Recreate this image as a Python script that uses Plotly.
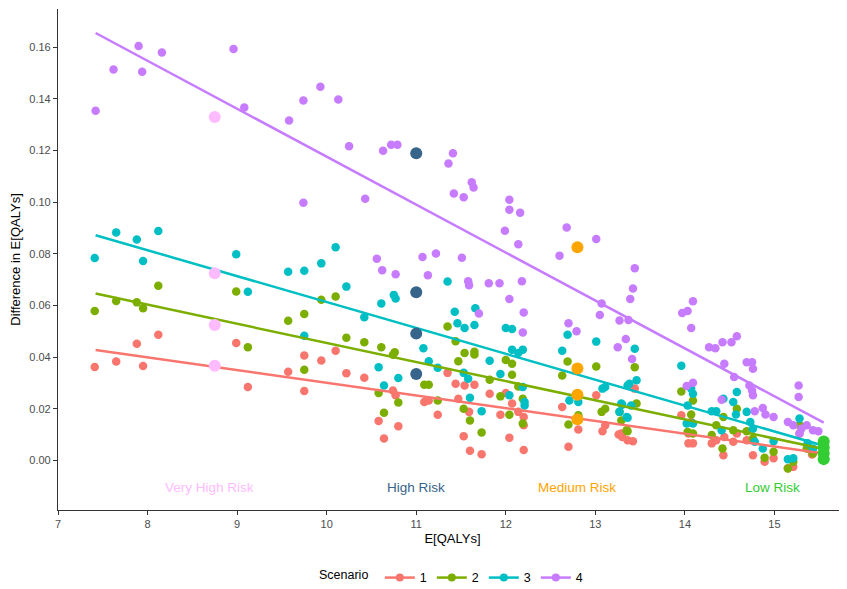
import plotly.graph_objects as go

# ---------------- data ----------------
s1_x = [7.41,7.65,7.88,7.95,8.12,8.99,9.12,9.57,9.75,9.75,9.94,10.10,10.22,10.42,10.58,10.64,10.80,10.74,10.77,11.09,11.14,11.24,11.35,11.44,11.47,11.54,11.65,11.59,11.53,11.60,11.73,11.82,11.94,12.00,12.07,12.04,12.14,12.20,12.20,12.20,12.63,12.70,12.81,13.01,13.08,13.11,13.26,13.30,13.44,13.29,13.36,13.42,13.96,14.04,14.09,14.04,14.07,14.30,14.35,14.43,14.44,14.58,14.54,14.69,14.76,14.89,14.99,15.15,15.21,15.28,15.37,15.42]
s1_y = [0.0362,0.0383,0.0452,0.0366,0.0487,0.0455,0.0284,0.0343,0.0406,0.0269,0.0387,0.0425,0.0338,0.0320,0.0153,0.0085,0.0132,0.0271,0.0252,0.0226,0.0232,0.0177,0.0339,0.0297,0.0239,0.0290,0.0293,0.0188,0.0094,0.0037,0.0024,0.0258,0.0177,0.0261,0.0220,0.0088,0.0188,0.0168,0.0136,0.0040,0.0207,0.0053,0.0120,0.0252,0.0113,0.0136,0.0100,0.0091,0.0278,0.0104,0.0078,0.0074,0.0175,0.0066,0.0066,0.0104,0.0149,0.0066,0.0078,0.0020,0.0091,0.0104,0.0072,0.0078,0.0020,-0.0005,0.0008,-0.0030,-0.0025,0.0104,0.0046,0.0023]

s2_x = [7.41,7.65,7.88,7.95,8.12,8.99,9.12,9.57,9.75,9.75,9.94,10.10,10.22,10.42,10.61,10.76,10.74,10.58,10.64,10.80,11.09,11.14,11.24,11.35,11.44,11.47,11.54,11.65,11.65,11.53,11.60,11.73,11.82,11.94,12.00,12.07,12.07,12.04,12.14,12.19,12.19,12.63,12.69,12.70,12.81,13.01,13.07,13.11,13.27,13.35,13.44,13.46,13.29,13.36,13.96,14.09,14.07,14.03,14.09,14.30,14.35,14.42,14.43,14.58,14.54,14.69,14.76,14.89,14.99,15.15,15.21,15.28,15.36,15.43]
s2_y = [0.0579,0.0617,0.0612,0.0589,0.0676,0.0654,0.0438,0.0541,0.0567,0.0351,0.0622,0.0635,0.0475,0.0458,0.0438,0.0419,0.0409,0.0261,0.0185,0.0224,0.0293,0.0293,0.0232,0.0519,0.0461,0.0384,0.0416,0.0421,0.0410,0.0200,0.0155,0.0108,0.0312,0.0248,0.0389,0.0374,0.0332,0.0177,0.0286,0.0239,0.0143,0.0329,0.0383,0.0139,0.0175,0.0364,0.0188,0.0200,0.0188,0.0117,0.0361,0.0220,0.0155,0.0113,0.0267,0.0232,0.0178,0.0110,0.0104,0.0098,0.0136,0.0046,0.0168,0.0200,0.0117,0.0113,0.0085,0.0010,0.0034,-0.0031,-0.0005,0.0136,0.0046,0.0027]

s3_x = [7.41,7.65,7.88,7.95,8.12,8.99,9.12,9.57,9.75,9.94,10.10,10.22,9.75,10.61,10.75,10.77,11.35,11.43,11.66,10.42,11.08,11.14,11.24,10.58,10.80,10.64,11.46,11.54,11.65,11.53,11.58,11.60,11.73,11.82,11.94,12.00,12.07,12.07,12.14,12.19,12.04,12.19,12.21,12.21,12.63,12.69,12.71,12.81,13.01,13.08,13.11,13.30,13.36,13.35,13.44,13.46,13.38,13.29,13.40,13.36,13.27,13.96,14.07,14.09,14.03,14.02,14.09,14.30,14.35,14.41,14.43,14.54,14.58,14.57,14.69,14.73,14.76,14.78,14.87,14.99,15.15,15.21,15.28,15.37,15.43]
s3_y = [0.0784,0.0883,0.0855,0.0772,0.0888,0.0798,0.0653,0.0731,0.0734,0.0763,0.0825,0.0673,0.0483,0.0608,0.0641,0.0627,0.0693,0.0576,0.0589,0.0554,0.0434,0.0384,0.0359,0.0361,0.0319,0.0290,0.0531,0.0513,0.0524,0.0339,0.0316,0.0243,0.0190,0.0386,0.0335,0.0513,0.0509,0.0429,0.0416,0.0429,0.0252,0.0284,0.0226,0.0213,0.0425,0.0487,0.0232,0.0226,0.0460,0.0278,0.0284,0.0216,0.0290,0.0168,0.0432,0.0310,0.0297,0.0220,0.0213,0.0165,0.0188,0.0367,0.0278,0.0258,0.0213,0.0143,0.0143,0.0190,0.0190,0.0117,0.0239,0.0226,0.0265,0.0178,0.0188,0.0149,0.0123,0.0072,0.0046,0.0074,0.0005,0.0008,0.0162,0.0066,0.0046]

s4_x = [7.42,7.62,7.90,7.94,8.16,8.96,9.08,9.58,9.74,9.93,10.13,10.25,9.74,10.43,10.63,10.72,10.79,11.41,11.36,11.62,11.64,11.42,11.53,12.04,12.04,12.16,11.99,12.14,12.68,12.60,13.01,10.56,10.62,10.77,11.07,11.22,11.13,11.51,11.58,11.59,11.81,11.93,12.18,12.04,11.70,12.20,13.44,13.42,13.39,13.07,13.05,12.19,12.70,12.79,13.25,13.27,13.37,13.34,13.41,13.97,14.03,14.09,14.07,14.27,14.34,14.42,14.52,14.58,14.44,14.55,14.69,14.75,14.76,14.72,14.75,14.76,14.41,14.78,14.87,14.90,14.99,14.02,14.09,15.27,15.27,15.15,15.21,15.30,15.36,15.43,15.49,15.28]
s4_y = [0.1354,0.1514,0.1605,0.1505,0.1580,0.1593,0.1367,0.1316,0.1394,0.1447,0.1398,0.1217,0.0998,0.1013,0.1199,0.1222,0.1222,0.1189,0.1150,0.1077,0.1057,0.1034,0.1019,0.1009,0.0971,0.0959,0.0889,0.0837,0.0902,0.0793,0.0857,0.0781,0.0736,0.0721,0.0788,0.0801,0.0717,0.0785,0.0694,0.0678,0.0686,0.0686,0.0694,0.0625,0.0569,0.0573,0.0744,0.0666,0.0625,0.0608,0.0563,0.0495,0.0531,0.0500,0.0438,0.0542,0.0544,0.0470,0.0393,0.0571,0.0579,0.0616,0.0513,0.0438,0.0434,0.0458,0.0458,0.0481,0.0374,0.0323,0.0380,0.0380,0.0355,0.0290,0.0271,0.0252,0.0235,0.0190,0.0203,0.0178,0.0168,0.0288,0.0301,0.0290,0.0246,0.0149,0.0136,0.0123,0.0136,0.0117,0.0113,0.0104]

# fitted (lm) lines, endpoints
fit_x = [7.42, 15.55]
fit_s1 = [0.0428, 0.0027]
fit_s2 = [0.0646, 0.0044]
fit_s3 = [0.0872, 0.0057]
fit_s4 = [0.1655, 0.0146]

# highlighted risk groups
vh_x = [8.75, 8.75, 8.75, 8.75]
vh_y = [0.1330, 0.0725, 0.0524, 0.0367]
hi_x = [11.0, 11.0, 11.0, 11.0]
hi_y = [0.1189, 0.0651, 0.0491, 0.0335]
med_x = [12.8, 12.8, 12.8, 12.8]
med_y = [0.0825, 0.0356, 0.0254, 0.0159]
low_x = [15.55, 15.55, 15.55, 15.55]
low_y = [0.0073, 0.0050, 0.0028, 0.0005]

label_text = ["Very High Risk", "High Risk", "Medium Risk", "Low Risk"]
label_x = [8.69, 11.0, 12.8, 14.98]
label_y = -0.0104

scenario_names = ["1", "2", "3", "4"]
colors = ["#F8766D", "#7CAE00", "#00BFC4", "#C77CFF"]
risk_colors = ["#FFBBFF", "#36648B", "#FFA500", "#32CD32"]

# ---------------- figure ----------------
fig = go.Figure()
series = [(s1_x, s1_y), (s2_x, s2_y), (s3_x, s3_y), (s4_x, s4_y)]
fits = [fit_s1, fit_s2, fit_s3, fit_s4]

for (sx, sy), c in zip(series, colors):
    fig.add_trace(go.Scatter(x=sx, y=sy, mode="markers",
                             marker=dict(color=c, size=8.5, line=dict(width=0)),
                             showlegend=False, hoverinfo="x+y"))
for fy, c in zip(fits, colors):
    fig.add_trace(go.Scatter(x=fit_x, y=fy, mode="lines",
                             line=dict(color=c, width=2.5), showlegend=False))

for (rx, ry), c in zip([(vh_x, vh_y), (hi_x, hi_y), (med_x, med_y), (low_x, low_y)], risk_colors):
    fig.add_trace(go.Scatter(x=rx, y=ry, mode="markers",
                             marker=dict(color=c, size=12, line=dict(width=0)),
                             showlegend=False))

# legend entries
for name, c in zip(scenario_names, colors):
    fig.add_trace(go.Scatter(x=[None], y=[None], mode="lines+markers", name=name,
                             line=dict(color=c, width=2.5),
                             marker=dict(color=c, size=8)))

for t, lx, c in zip(label_text, label_x, risk_colors):
    fig.add_annotation(x=lx, y=label_y, text=t, showarrow=False,
                       font=dict(color=c, size=13.5, family="Liberation Sans, Arial"),
                       xanchor="center", yanchor="middle")

axis_common = dict(showgrid=False, zeroline=False, showline=True, linecolor="#333333",
                   linewidth=1.1, ticks="outside", ticklen=4, tickcolor="#333333",
                   tickfont=dict(size=11, color="#4D4D4D"), mirror=False, automargin=False)

# the page body adds an 8px offset, so the figure is 8px smaller on each side
fig.update_layout(
    width=839, height=581,
    margin=dict(l=50, r=0, t=1, b=79),
    paper_bgcolor="white", plot_bgcolor="white",
    font=dict(family="Liberation Sans, Arial", color="black"),
    xaxis=dict(range=[7.0, 15.81], dtick=1, tick0=7,
               title=dict(text="E[QALYs]", font=dict(size=13), standoff=4), **axis_common),
    yaxis=dict(range=[-0.0192, 0.1748], dtick=0.02, tick0=0, tickformat=".2f",
               title=dict(text="Difference in E[QALYs]", font=dict(size=13), standoff=6), **axis_common),
    legend=dict(orientation="h", x=0.5, xanchor="center", yref="container", y=0.019, yanchor="middle",
                title=dict(text="Scenario ", side="left", font=dict(size=12.5)),
                font=dict(size=12.5), itemwidth=30),
)

fig.write_html("out.html")
